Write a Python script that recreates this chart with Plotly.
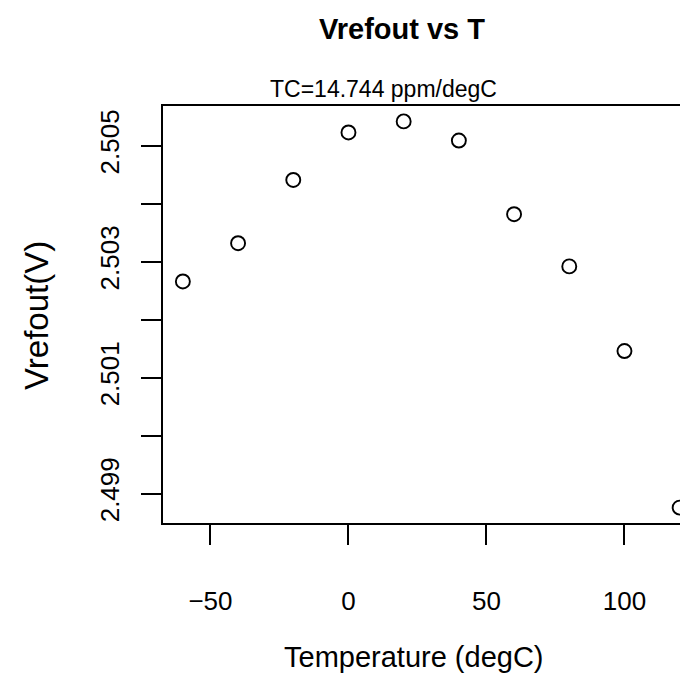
import plotly.graph_objects as go

# Data
temperature = [-60, -40, -20, 0, 20, 40, 60, 80, 100, 120]
vrefout = [2.50266, 2.50332, 2.50441, 2.50523, 2.50542, 2.50509,
           2.50382, 2.50292, 2.50146, 2.49876]

x_tickvals = [-50, 0, 50, 100]
x_ticktext = ["\u221250", "0", "50", "100"]
y_tickvals = [2.499, 2.500, 2.501, 2.502, 2.503, 2.504, 2.505]
y_ticktext = ["2.499", "", "2.501", "", "2.503", "", "2.505"]

title_text = "Vrefout vs T"
subtitle_text = "TC=14.744 ppm/degC"
x_label = "Temperature (degC)"
y_label = "Vrefout(V)"

FONT = "Liberation Sans, Arial, Helvetica, sans-serif"
W, H = 688, 680
L, T, B, R = 155, 98, 165, 0
plot_w = W - L - R
plot_h = H - T - B

def px_x(px):
    return (px - L) / plot_w

def px_y(py):
    return (H - B - py) / plot_h

fig = go.Figure()
fig.add_trace(go.Scatter(
    x=temperature, y=vrefout, mode="markers",
    marker=dict(symbol="circle-open", size=14, color="black",
                line=dict(color="black", width=1.9)),
    showlegend=False, cliponaxis=False,
))

fig.update_layout(
    width=W, height=H,
    margin=dict(l=L, r=R, t=T, b=B, autoexpand=False),
    paper_bgcolor="white", plot_bgcolor="white",
    font=dict(family=FONT, color="black", size=24),
    xaxis=dict(
        range=[-67.2, -67.2 + plot_w / 2.76],
        tickmode="array", tickvals=x_tickvals, ticktext=x_ticktext,
        ticks="outside", ticklen=20, tickwidth=2, tickcolor="black",
        showline=True, linecolor="black", linewidth=2, mirror=True,
        showgrid=False, zeroline=False,
        tickfont=dict(size=26, family=FONT, color="black"),
        ticklabelstandoff=34,
    ),
    yaxis=dict(
        range=[2.498494, 2.505686],
        tickmode="array", tickvals=y_tickvals, ticktext=y_ticktext,
        ticks="outside", ticklen=20, tickwidth=2, tickcolor="black",
        showline=True, linecolor="black", linewidth=2, mirror=False,
        showgrid=False, zeroline=False, tickangle=-90,
        tickfont=dict(size=26, family=FONT, color="black"),
        ticklabelstandoff=12,
    ),
    annotations=[
        dict(text="<b>" + title_text + "</b>", xref="paper", yref="paper",
             x=px_x(394), y=px_y(21), xanchor="center", yanchor="middle",
             showarrow=False, font=dict(size=29, family=FONT, color="black")),
        dict(text=subtitle_text, xref="paper", yref="paper",
             x=px_x(375), y=px_y(81), xanchor="center", yanchor="middle",
             showarrow=False, font=dict(size=23, family=FONT, color="black")),
        dict(text=x_label, xref="paper", yref="paper",
             x=px_x(406), y=px_y(649), xanchor="center", yanchor="middle",
             showarrow=False, font=dict(size=29, family=FONT, color="black")),
        dict(text=y_label, xref="paper", yref="paper",
             x=px_x(28), y=px_y(308), xanchor="center", yanchor="middle",
             textangle=-90, showarrow=False,
             font=dict(size=33, family=FONT, color="black")),
    ],
)

fig.write_html("out.html")
